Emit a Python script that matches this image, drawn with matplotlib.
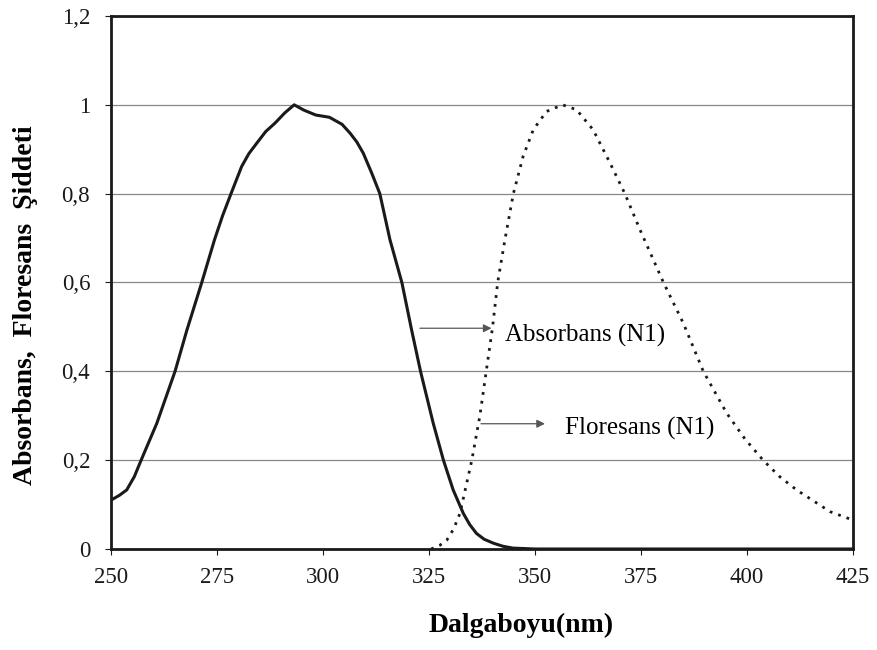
import matplotlib
matplotlib.use("Agg")
import matplotlib.pyplot as plt
from matplotlib.ticker import FixedLocator, FuncFormatter

abs_wl = [250, 252.0, 253.7, 255.5, 257.1, 260.8, 265.1, 267.9, 271.4, 274.4, 276.3, 278.3, 280.8,
          282.5, 284.4, 286.5, 288.7, 291.0, 293.2, 295.5, 298.3, 301.5, 304.5, 306.4, 308.0, 309.5,
          311.5, 313.4, 315.8, 318.6, 320.9, 323.0, 326.0, 328.4, 330.7, 333.1, 334.6, 336.2, 338.0,
          340.2, 342.5, 344.8, 350, 425]
abs_val = [0.11, 0.121, 0.133, 0.163, 0.2, 0.283, 0.4, 0.493, 0.6, 0.696, 0.75, 0.8, 0.861,
           0.89, 0.914, 0.94, 0.959, 0.982, 1.0, 0.988, 0.977, 0.972, 0.956, 0.936, 0.916, 0.891,
           0.846, 0.8, 0.696, 0.6, 0.493, 0.4, 0.283, 0.2, 0.133, 0.080, 0.055, 0.035, 0.022,
           0.013, 0.006, 0.002, 0.0, 0.0]

flu_wl = [325.5, 327.5, 329.2, 330.8, 332.3, 335.1, 337.0, 338.5, 340.0, 341.2, 342.9, 344.9, 347.2,
          349.6, 352.7, 356.5, 359.8, 363.7, 367.7, 371.2, 374.8, 380.3, 385.0, 389.7, 395.2, 399.5,
          403.8, 407.7, 411.7, 419.6, 425]
flu_val = [0.0, 0.008, 0.02, 0.045, 0.08, 0.2, 0.3, 0.4, 0.5, 0.6, 0.696, 0.8, 0.884,
           0.944, 0.985, 1.0, 0.989, 0.944, 0.869, 0.8, 0.718, 0.6, 0.508, 0.4, 0.306, 0.248,
           0.2, 0.163, 0.133, 0.084, 0.065]

x_ticks = [250, 275, 300, 325, 350, 375, 400, 425]
y_ticks = [0, 0.2, 0.4, 0.6, 0.8, 1.0, 1.2]

serif = ["Liberation Serif", "DejaVu Serif"]
plt.rcParams["font.family"] = serif

fig = plt.figure(figsize=(8.77, 6.5), dpi=100)
ax = fig.add_axes([0.1266, 0.1554, 0.846, 0.820])

ax.plot(abs_wl, abs_val, color="#1a1a1a", lw=2.2, solid_joinstyle="round", solid_capstyle="round")
ax.plot(flu_wl, flu_val, color="#1a1a1a", lw=2.0, linestyle=(0, (1, 2.2)))

ax.set_xlim(250, 425)
ax.set_ylim(0, 1.2)
ax.xaxis.set_major_locator(FixedLocator(x_ticks))
ax.yaxis.set_major_locator(FixedLocator(y_ticks))

def yfmt(v, pos):
    s = ("%.1f" % v)
    if s.endswith(".0"):
        s = s[:-2]
    return s.replace(".", ",")

ax.yaxis.set_major_formatter(FuncFormatter(yfmt))
ax.grid(axis="y", color="#888888", lw=0.9)
ax.set_axisbelow(True)
for sp in ax.spines.values():
    sp.set_linewidth(2.0)
    sp.set_color("#1a1a1a")
ax.tick_params(axis="both", labelsize=16.5, colors="#1a1a1a", length=4, width=0.8, direction="out")
ax.tick_params(axis="x", pad=9)
ax.tick_params(axis="y", pad=11)

fig.text(0.0296, 0.531, "Absorbans,  Floresans  Şiddeti", fontsize=20, fontweight="bold",
         rotation=90, ha="center", va="center")
fig.text(0.594, 0.038, "Dalgaboyu(nm)", fontsize=20, fontweight="bold", ha="center", va="center")

ax.annotate("", xy=(340.4, 0.497), xytext=(322.2, 0.497),
            arrowprops=dict(arrowstyle="-|>", color="#555555", lw=0.9, mutation_scale=12))
ax.text(342.9, 0.480, "Absorbans (N1)", fontsize=18, va="center", ha="left")
ax.annotate("", xy=(353.0, 0.282), xytext=(336.6, 0.282),
            arrowprops=dict(arrowstyle="-|>", color="#555555", lw=0.9, mutation_scale=12))
ax.text(357.1, 0.272, "Floresans (N1)", fontsize=18, va="center", ha="left")

fig.savefig("out.png", dpi=100)
